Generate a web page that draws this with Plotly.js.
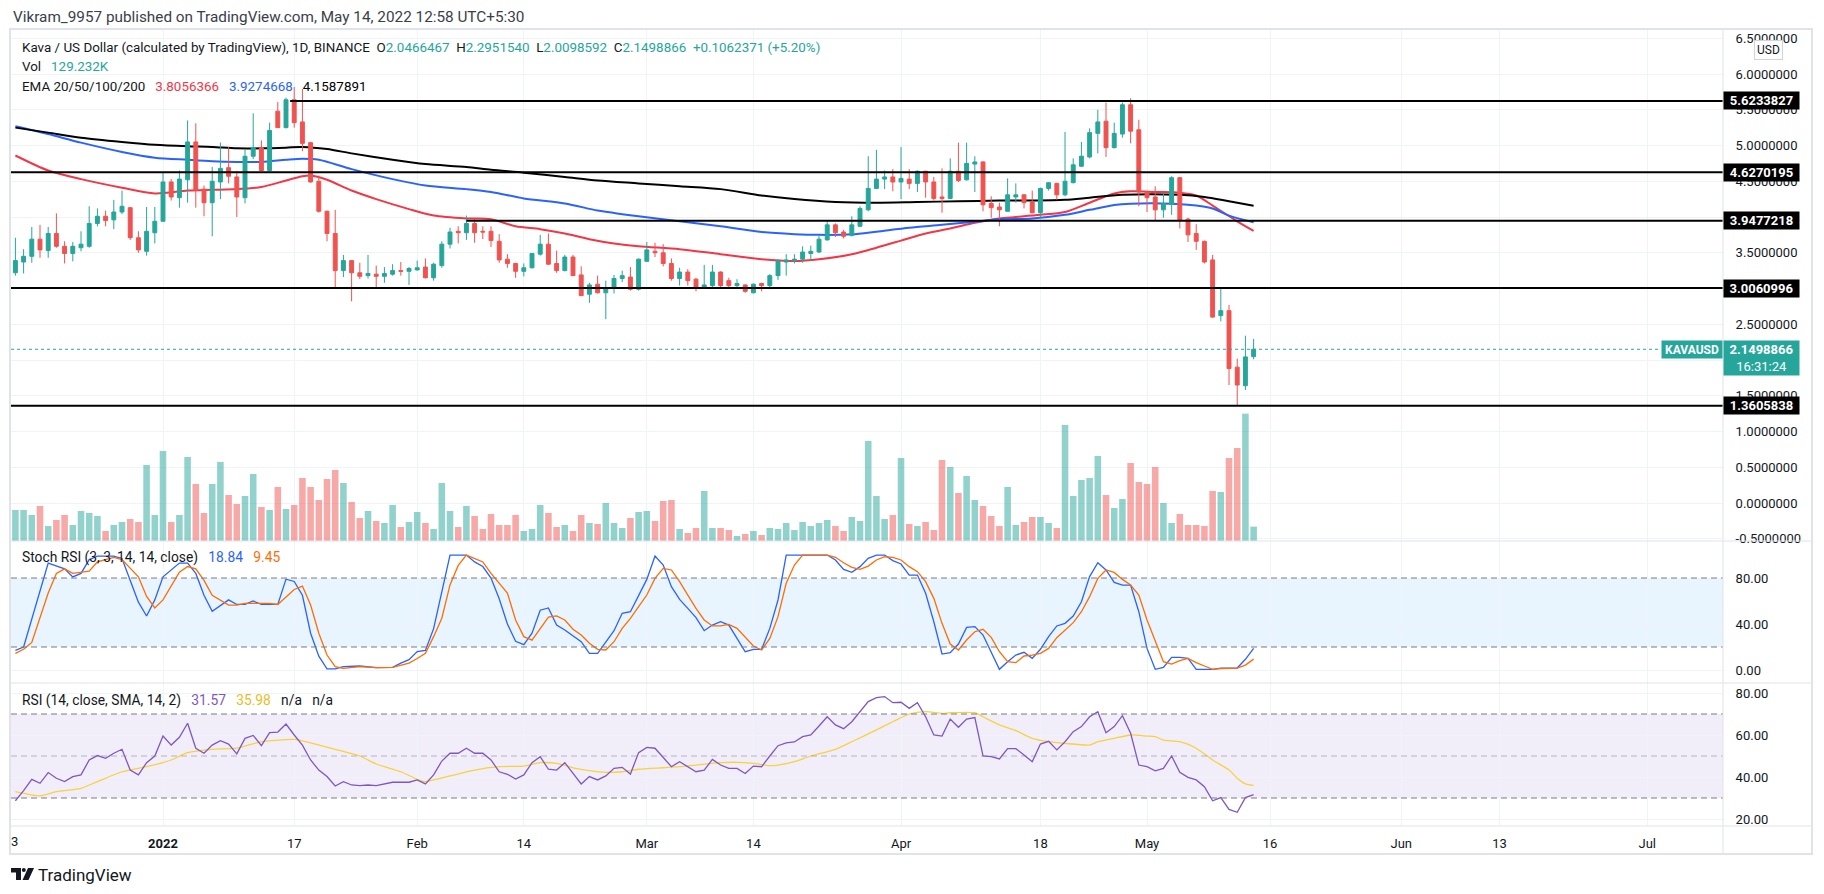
<!DOCTYPE html>
<html><head><meta charset="utf-8">
<script src="https://cdn.plot.ly/plotly-3.0.1.min.js"></script>
<style>html,body{margin:0;padding:0;background:#fff;}#chart{width:1824px;height:894px;}</style>
</head><body><div id="chart"></div>
<script>
// ---------------- DATA ----------------
const dates = [
'2021-12-14','2021-12-15','2021-12-16','2021-12-17','2021-12-18','2021-12-19','2021-12-20','2021-12-21','2021-12-22','2021-12-23',
'2021-12-24','2021-12-25','2021-12-26','2021-12-27','2021-12-28','2021-12-29','2021-12-30','2021-12-31',
'2022-01-01','2022-01-02','2022-01-03','2022-01-04','2022-01-05','2022-01-06','2022-01-07','2022-01-08','2022-01-09','2022-01-10',
'2022-01-11','2022-01-12','2022-01-13','2022-01-14','2022-01-15','2022-01-16','2022-01-17','2022-01-18','2022-01-19','2022-01-20',
'2022-01-21','2022-01-22','2022-01-23','2022-01-24','2022-01-25','2022-01-26','2022-01-27','2022-01-28','2022-01-29','2022-01-30','2022-01-31',
'2022-02-01','2022-02-02','2022-02-03','2022-02-04','2022-02-05','2022-02-06','2022-02-07','2022-02-08','2022-02-09','2022-02-10',
'2022-02-11','2022-02-12','2022-02-13','2022-02-14','2022-02-15','2022-02-16','2022-02-17','2022-02-18','2022-02-19','2022-02-20',
'2022-02-21','2022-02-22','2022-02-23','2022-02-24','2022-02-25','2022-02-26','2022-02-27','2022-02-28',
'2022-03-01','2022-03-02','2022-03-03','2022-03-04','2022-03-05','2022-03-06','2022-03-07','2022-03-08','2022-03-09','2022-03-10',
'2022-03-11','2022-03-12','2022-03-13','2022-03-14','2022-03-15','2022-03-16','2022-03-17','2022-03-18','2022-03-19','2022-03-20',
'2022-03-21','2022-03-22','2022-03-23','2022-03-24','2022-03-25','2022-03-26','2022-03-27','2022-03-28','2022-03-29','2022-03-30','2022-03-31',
'2022-04-01','2022-04-02','2022-04-03','2022-04-04','2022-04-05','2022-04-06','2022-04-07','2022-04-08','2022-04-09','2022-04-10',
'2022-04-11','2022-04-12','2022-04-13','2022-04-14','2022-04-15','2022-04-16','2022-04-17','2022-04-18','2022-04-19','2022-04-20',
'2022-04-21','2022-04-22','2022-04-23','2022-04-24','2022-04-25','2022-04-26','2022-04-27','2022-04-28','2022-04-29','2022-04-30',
'2022-05-01','2022-05-02','2022-05-03','2022-05-04','2022-05-05','2022-05-06','2022-05-07','2022-05-08','2022-05-09','2022-05-10',
'2022-05-11','2022-05-12','2022-05-13','2022-05-14'];

const open = [
3.22,3.37,3.45,3.69,3.53,3.77,3.59,3.49,3.57,3.59,
3.91,4.01,3.96,4.07,4.13,3.71,3.52,3.78,3.94,4.49,
4.27,4.52,5.05,4.39,4.20,4.49,4.69,4.56,4.27,4.85,
4.97,4.65,5.48,5.25,5.64,5.33,5.04,4.50,4.08,3.77,
3.25,3.39,3.22,3.18,3.20,3.17,3.20,3.25,3.24,3.26,
3.30,3.15,3.32,3.62,3.80,3.78,3.91,3.80,3.80,3.66,
3.41,3.35,3.24,3.29,3.48,3.62,3.35,3.25,3.44,3.19,
2.92,3.06,2.94,3.01,3.14,3.16,2.99,3.38,3.52,3.50,
3.35,3.14,3.23,3.13,3.00,3.04,3.23,3.11,3.04,3.05,
2.94,3.07,3.04,3.18,3.37,3.39,3.41,3.49,3.51,3.68,
3.89,3.79,3.74,3.87,4.10,4.40,4.53,4.56,4.49,4.53,
4.47,4.64,4.49,4.28,4.26,4.64,4.52,4.74,4.77,4.19,
4.14,4.08,4.28,4.31,4.21,4.06,4.40,4.47,4.31,4.48,
4.71,4.84,5.17,5.34,4.97,5.16,5.57,5.22,4.35,4.28,
4.10,4.18,4.55,3.97,3.77,3.66,3.40,2.62,2.69,1.90,
1.64,2.0466467];
const high = [
3.71,3.55,3.86,3.89,3.86,4.05,3.66,3.65,3.80,4.15,
4.12,4.09,4.24,4.37,4.14,3.80,4.14,4.14,4.63,4.53,
4.65,5.35,5.31,4.44,4.70,5.04,4.98,4.64,4.95,5.45,
5.07,5.32,5.61,5.67,5.82,5.79,5.05,4.58,4.09,4.10,
3.47,3.39,3.36,3.47,3.32,3.30,3.34,3.37,3.30,3.39,
3.42,3.36,3.66,3.85,3.87,4.02,3.98,3.87,3.87,3.76,
3.48,3.36,3.35,3.49,3.75,3.77,3.53,3.47,3.47,3.31,
3.08,3.18,3.11,3.19,3.25,3.30,3.42,3.65,3.64,3.62,
3.42,3.29,3.27,3.15,3.33,3.33,3.24,3.15,3.13,3.06,
3.07,3.08,3.20,3.41,3.48,3.48,3.59,3.60,3.74,3.94,
3.91,3.82,4.01,4.15,4.85,4.94,4.65,4.67,4.98,4.67,
4.65,4.64,4.56,4.68,4.82,5.04,5.04,4.85,4.78,4.29,
4.20,4.54,4.47,4.32,4.37,4.41,4.49,4.48,5.19,4.82,
5.05,5.24,5.50,5.60,5.32,5.60,5.66,5.36,4.37,4.43,
4.33,4.57,4.56,3.99,3.90,3.67,3.47,3.02,2.77,2.02,
2.34,2.2951540];
const low = [
3.18,3.21,3.36,3.43,3.43,3.57,3.35,3.38,3.52,3.57,
3.87,3.87,3.83,4.04,3.68,3.50,3.46,3.63,3.94,4.23,
4.13,4.20,4.13,4.01,3.73,4.25,4.47,4.00,4.19,4.81,
4.64,4.64,5.25,5.24,5.25,4.92,4.48,4.06,3.66,3.00,
3.16,2.82,3.13,3.14,3.01,3.08,3.18,3.18,3.05,3.25,
3.14,3.11,3.29,3.56,3.63,3.68,3.64,3.69,3.58,3.36,
3.29,3.15,3.17,3.28,3.46,3.33,3.22,3.24,3.18,2.90,
2.80,2.93,2.57,2.93,3.09,2.97,2.97,3.38,3.44,3.31,
3.11,3.04,3.04,2.96,3.00,3.01,3.01,3.01,3.02,2.94,
2.93,2.96,2.99,3.12,3.18,3.35,3.36,3.39,3.50,3.67,
3.72,3.70,3.73,3.86,4.08,4.39,4.39,4.36,4.25,4.39,
4.35,4.27,4.23,4.06,4.25,4.49,4.51,4.35,4.08,3.99,
3.87,4.08,4.20,4.12,4.05,3.99,4.37,4.24,4.29,4.47,
4.70,4.82,4.89,4.84,4.96,5.11,5.03,4.15,4.07,3.95,
3.99,4.03,3.84,3.65,3.54,3.35,2.59,2.54,1.65,1.36,
1.58,2.0098592];
const close = [
3.39,3.45,3.69,3.54,3.77,3.59,3.49,3.59,3.62,3.91,
4.01,3.95,4.07,4.15,3.71,3.54,3.80,3.94,4.49,4.28,
4.53,5.05,4.38,4.20,4.50,4.68,4.57,4.28,4.85,4.97,
4.65,5.21,5.25,5.64,5.32,5.03,4.49,4.08,3.77,3.25,
3.39,3.22,3.17,3.21,3.17,3.21,3.25,3.24,3.28,3.29,
3.15,3.34,3.62,3.79,3.78,3.91,3.78,3.79,3.67,3.40,
3.35,3.24,3.29,3.49,3.62,3.34,3.25,3.44,3.18,2.90,
3.05,2.94,3.01,3.14,3.18,2.99,3.41,3.54,3.50,3.35,
3.14,3.23,3.11,3.01,3.05,3.23,3.04,3.04,3.07,2.96,
3.06,3.04,3.18,3.39,3.40,3.41,3.51,3.52,3.69,3.89,
3.78,3.73,3.89,4.12,4.40,4.53,4.56,4.49,4.54,4.47,
4.64,4.49,4.26,4.26,4.64,4.51,4.75,4.77,4.17,4.13,
4.10,4.31,4.31,4.20,4.06,4.40,4.48,4.31,4.50,4.73,
4.85,5.18,5.33,4.97,5.17,5.57,5.20,4.35,4.27,4.10,
4.19,4.55,3.95,3.75,3.66,3.37,2.60,2.69,1.88,1.65,
2.0436495,2.1498866];
// volume in thousands
const volumeK = [
279,279,234,315,135,189,234,144,270,252,
225,90,144,171,198,171,684,234,810,171,
234,756,513,252,513,711,414,333,405,603,
306,279,486,288,324,567,486,369,558,639,
522,351,207,270,180,162,324,126,171,261,
162,108,522,270,126,315,225,108,243,144,
144,234,90,108,324,252,126,144,90,234,
162,153,342,162,117,207,261,270,180,360,
369,108,72,117,450,117,117,99,45,63,
90,54,117,108,162,99,171,135,162,189,
135,90,216,180,900,405,198,234,747,153,
135,171,99,729,666,432,585,369,315,225,
135,486,144,171,216,216,162,117,1044,405,
549,567,765,414,297,378,702,531,513,666,
342,162,243,144,144,135,450,441,747,837,
1146,129.232];

// EMA lines (bar index, value)
const emaRedIdx = [0,4,8,13,17,21,24,27,30,33,35,36,38,41,44,48,51,55,58,61,64,67,70,73,76,81,86,91,95,98,102,105,108,111,114,117,120,122,125,128,131,134,136,139,142,144,146,149,151];
const emaRed = [4.86,4.65,4.53,4.41,4.33,4.37,4.38,4.39,4.42,4.51,4.57,4.58,4.52,4.37,4.25,4.11,4.02,3.98,3.97,3.87,3.83,3.77,3.69,3.63,3.59,3.55,3.48,3.41,3.385,3.41,3.48,3.57,3.67,3.77,3.84,3.92,3.98,4.00,4.03,4.07,4.20,4.33,4.36,4.35,4.34,4.30,4.16,3.94,3.8056366];
const emaBlueIdx = [0,4,8,13,17,21,24,27,30,33,35,37,41,46,50,55,58,62,67,71,74,76,81,86,91,95,98,102,105,109,113,117,120,124,128,131,134,136,141,144,146,148,151];
const emaBlue = [5.27,5.16,5.04,4.91,4.83,4.80,4.78,4.77,4.77,4.80,4.815,4.80,4.67,4.53,4.44,4.39,4.35,4.26,4.19,4.09,4.04,4.01,3.94,3.87,3.79,3.76,3.75,3.757,3.795,3.85,3.89,3.935,3.967,3.98,4.03,4.10,4.168,4.186,4.186,4.16,4.12,4.02,3.9274668];
const emaBlackIdx = [0,4,8,13,17,21,24,27,30,33,35,38,41,46,50,55,58,62,67,71,76,81,86,91,95,100,105,110,115,120,124,128,131,135,142,145,148,151];
const emaBlack = [5.25,5.18,5.11,5.05,5.01,4.99,4.98,4.96,4.96,4.97,4.98,4.95,4.89,4.80,4.74,4.70,4.66,4.62,4.56,4.51,4.47,4.43,4.39,4.30,4.25,4.21,4.20,4.21,4.22,4.23,4.23,4.24,4.27,4.31,4.31,4.28,4.22,4.1587891];

// Stoch RSI
const stochKIdx = [0,1,4,6,7,8,9,10,12,13,15,16,17,18,20,21,22,23,24,26,27,28,29,30,32,33,34,35,36,37,38,39,40,42,44,46,47,48,49,50,51,52,53,55,56,57,58,59,60,61,62,63,64,65,
66,67,68,69,70,71,73,74,75,76,77,78,79,80,81,82,83,84,85,86,87,88,89,90,91,92,93,94,99,100,101,102,103,104,105,106,107,108,109,110,111,112,113,114,115,116,117,118,119,
120,121,122,123,124,125,126,127,128,129,130,131,132,133,134,135,136,137,138,139,140,141,142,143,144,145,146,147,148,149,150,151];
const stochK = [17,20,93,88,81,84,96,99,99,97,59,47,61,81,93,93,84,65,51,61,57,57,60,57,57,79,77,65,32,12,1,1,3,3.5,2,2.3,6,9,16,17,36,67,100,100,94,90,80,62,40,25,22,32,52,54,
39.1,34.8,29.6,24.6,14.5,14.5,34.2,49.3,50.7,65.2,78.8,99.1,91.3,72.5,61.4,53.6,45.5,34.2,39.1,42,39.1,27.5,15.9,18,18,36.2,60.9,100,100,95.7,87.5,84.9,89.9,97.1,100,100,95.1,92.2,82.6,82.6,66.7,42,13.9,15.1,22.6,37.1,37.7,30.4,15.9,
0.6,7.2,13,15.4,10.1,18,29,38.3,40.6,47,59.4,81.2,93.3,87,76.2,73.9,73.9,50.7,18.8,0.6,2.3,11,11,10.1,0.6,0.6,0.6,1.7,1.7,1.7,9.3,18.84];
const stochDIdx = [0,1,2,4,5,6,7,9,10,12,13,15,16,17,18,20,21,22,23,24,26,27,28,31,32,34,35,36,37,38,39,40,42,44,46,48,49,50,51,52,53,54,55,56,57,58,60,61,62,63,64,65,
66,67,68,69,70,71,72,73,74,75,76,77,78,79,80,81,82,83,84,85,86,87,88,89,90,91,92,93,94,95,96,99,100,101,102,103,104,105,106,107,108,109,110,111,112,113,114,115,116,117,118,119,
120,121,122,123,124,125,126,127,128,129,130,131,132,133,134,135,136,137,138,139,140,141,142,143,144,145,146,147,148,149,150,151];
const stochD = [14.5,18,24,67,84,88,84,86,94,98,96,81,64,54,61,85,90,88,78,65,56.5,56.5,58,58,57,70,73,56.5,32,13,3,1.4,3,2,2.3,6,10,14.5,29,45,74,91,100,97,94,84,67,43.5,29,26,36,46,
47,43.5,35.4,30.4,23.2,18,17.4,24.6,36.2,44.9,55.1,65.2,79.7,88.4,87,76.8,65.2,53.6,43.5,38.3,38.3,39.7,36.2,29,20.9,17.4,27.5,46.4,75.4,91.3,100,100,98,93.3,89.3,87.5,90.4,95.7,98.6,98,95.7,89.9,85.5,76.8,62.3,40.6,22.6,17.4,26.1,33.3,35.4,28.4,
15.9,7.2,6.4,12.2,13,14.5,18.8,28.1,34.8,41.2,50.7,63.8,79.7,87,84.9,78.8,73.9,65.2,43.5,24.6,7.2,5.2,8.1,10.1,6.4,3.5,0.6,1.2,1.2,1.7,4.3,9.45];

// RSI (one value per bar) and its SMA
const rsi = [
28.7,33.5,38.9,37,42.1,39.4,37.8,40.2,41,48.1,
50.2,48.9,51.3,53.2,43.3,41,46.8,50,59.5,55.2,
58.9,65.6,53.7,51.3,55.2,57.3,55.7,51,58.4,59.8,
54.9,61.1,61.4,65.2,60,55.2,48.1,43.3,40.2,35.7,
37.8,36.2,35.9,36.2,35.9,36.7,37.5,37.5,37.5,38.6,
36.7,41,47.6,51.3,51.3,53.7,51.3,51.3,48.1,42.5,
41.3,39,41,46.8,49.7,43.7,43.3,46.8,41.7,36.7,
40.2,38.6,40.5,44.1,44.6,41.4,51.6,54.1,53.7,49.4,
44.9,47.3,44.9,42.5,43.3,48.4,45.7,44.1,44.1,41.7,
45.2,44.9,50,54.9,56.3,56.7,59.2,60,64.3,68.7,
64.8,63,66.3,71.1,75.9,77.8,78.3,75.4,75.6,72.7,
75.4,68.7,60,59.5,67.6,63.7,67.6,68.3,50,49.7,
48.6,53.5,53.5,50.5,47.3,55.7,57,52.9,56.8,61.6,
64,68.7,71.1,61.1,64,69.2,60.8,45.7,44.9,42.9,
44.1,50,42.2,39.8,38.6,35.4,28.7,30.2,24.6,23.2,
30.2,31.57];
const rsiMaIdx = [0,3,5,8,10,13,16,19,21,24,27,30,34,36,39,42,44,47,49,50,53,56,59,62,64,66,68,70,72,74,76,79,81,83,86,88,90,92,93,95,97,100,102,105,107,109,111,113,114,117,118,120,122,124,126,128,131,132,134,136,138,139,140,142,144,146,148,149,150,151];
const rsiMa = [33,31,33,34.6,37.8,42.5,44.9,48.1,51.6,53.2,53.7,56.8,57.9,56.3,53.2,50,46.2,42.5,38.9,37.8,40.5,43.3,44.9,45.2,46.8,46.5,44.4,43,42.2,42.5,43.7,44.4,44.9,45.7,46.8,47,46.5,45.4,45.7,47.3,50,53.2,56.8,62.4,66.3,70,71.1,70.3,70.6,70.6,68.7,64.8,62.1,58.4,56.8,56,55.2,56.8,58.4,60,59.5,59.2,57.6,56.8,53.7,48.1,43.3,39.4,36.7,35.98];

// Horizontal levels drawn on the chart
const levels = [5.6233827, 4.6270195, 3.9477218, 3.0060996, 1.3605838];
const levelStart = ['2022-01-16 12:00', null, '2022-02-07', null, null];

// Axis ticks
const xTickVals = ['2022-01-01','2022-01-17','2022-02-01','2022-02-14','2022-03-01','2022-03-14','2022-04-01','2022-04-18','2022-05-01','2022-05-16','2022-06-01','2022-06-13','2022-07-01'];
const xTickText = ['<b>2022</b>','17','Feb','14','Mar','14','Apr','18','May','16','Jun','13','Jul'];
const priceTicks = [-0.5,0,0.5,1,1.5,2,2.5,3,3.5,4,4.5,5,5.5,6,6.5];
// price tick labels fully covered by the level / last-price boxes in the picture
const priceTicksCovered = [2, 3, 4];

// ---------------- LAYOUT HELPERS ----------------
const W = 1824, H = 894;
const px = x => x / W;
const py = y => 1 - y / H;
const TEAL = '#26a69a', RED = '#ef5350', TXT = '#131722', GRID = '#f0f3fa', FRAME = '#e0e3eb';
const FONT = 'Roboto, "Open Sans", sans-serif';
const xStart = '2021-12-13 11:07', xEnd = '2022-07-10 05:46';
const last = close.length - 1;
const pick = (idx) => idx.map(i => dates[i]);
const NB = '\u00a0\u00a0\u00a0';
const NB2 = '\u00a0\u00a0';
const span = (c, t) => `<span style="color:${c}">${t}</span>`;

// ---------------- TRACES ----------------
const traces = [];
traces.push({
  type: 'bar', x: dates, y: volumeK, xaxis: 'x', yaxis: 'y',
  marker: { color: close.map((c, i) => c >= open[i] ? 'rgba(38,166,154,0.5)' : 'rgba(239,83,80,0.5)'), line: { width: 0 } },
  width: 0.8 * 86400000, hoverinfo: 'skip'
});
[[emaRedIdx, emaRed, '#f23645'], [emaBlueIdx, emaBlue, '#2962ff'], [emaBlackIdx, emaBlack, '#000000']].forEach(([ix, v, c]) => {
  traces.push({ type: 'scatter', mode: 'lines', x: pick(ix), y: v, xaxis: 'x', yaxis: 'y2',
    line: { color: c, width: 2, shape: 'spline', smoothing: 0.8 }, hoverinfo: 'skip' });
});
traces.push({
  type: 'candlestick', x: dates, open: open, high: high, low: low, close: close, xaxis: 'x', yaxis: 'y5',
  increasing: { line: { color: TEAL, width: 1 }, fillcolor: TEAL },
  decreasing: { line: { color: RED, width: 1 }, fillcolor: RED },
  whiskerwidth: 0, hoverinfo: 'skip'
});
traces.push({ type: 'scatter', mode: 'lines', x: pick(stochKIdx), y: stochK, xaxis: 'x2', yaxis: 'y3', line: { color: '#2962ff', width: 1.3 }, hoverinfo: 'skip' });
traces.push({ type: 'scatter', mode: 'lines', x: pick(stochDIdx), y: stochD, xaxis: 'x2', yaxis: 'y3', line: { color: '#ff6d00', width: 1.3 }, hoverinfo: 'skip' });
traces.push({ type: 'scatter', mode: 'lines', x: pick(rsiMaIdx), y: rsiMa, xaxis: 'x3', yaxis: 'y4', line: { color: '#f7d13e', width: 1.3, shape: 'spline', smoothing: 0.6 }, hoverinfo: 'skip' });
traces.push({ type: 'scatter', mode: 'lines', x: dates, y: rsi, xaxis: 'x3', yaxis: 'y4', line: { color: '#7e57c2', width: 1.3 }, hoverinfo: 'skip' });

// ---------------- AXES ----------------
const xBase = {
  type: 'date', domain: [px(11), px(1723)], range: [xStart, xEnd],
  tickvals: xTickVals, ticktext: xTickText, showgrid: true, gridcolor: GRID, gridwidth: 1,
  zeroline: false, showline: false, fixedrange: true, showticklabels: false
};
const yRight = {
  side: 'right', showgrid: true, gridcolor: GRID, zeroline: false, showline: false, fixedrange: true,
  ticks: 'outside', ticklen: 9, tickcolor: 'rgba(0,0,0,0)', tickfont: { size: 13, color: TXT, family: FONT }
};
const priceRange = [-0.5315, 6.6154];
const priceText = priceTicks.map(v => priceTicksCovered.includes(v) ? '' : v.toFixed(7));

// ---------------- SHAPES ----------------
const shapes = [];
shapes.push({ type: 'rect', xref: 'paper', yref: 'y3', x0: px(11), x1: px(1723), y0: 20, y1: 80, fillcolor: 'rgba(33,150,243,0.1)', line: { width: 0 }, layer: 'below' });
[80, 20].forEach(v => shapes.push({ type: 'line', xref: 'paper', yref: 'y3', x0: px(11), x1: px(1723), y0: v, y1: v, line: { color: '#787b86', width: 1, dash: '6px,4px' } }));
shapes.push({ type: 'rect', xref: 'paper', yref: 'y4', x0: px(11), x1: px(1723), y0: 30, y1: 70, fillcolor: 'rgba(126,87,194,0.1)', line: { width: 0 }, layer: 'below' });
[70, 30].forEach(v => shapes.push({ type: 'line', xref: 'paper', yref: 'y4', x0: px(11), x1: px(1723), y0: v, y1: v, line: { color: '#787b86', width: 1, dash: '6px,4px' } }));
shapes.push({ type: 'line', xref: 'paper', yref: 'y4', x0: px(11), x1: px(1723), y0: 50, y1: 50, line: { color: 'rgba(120,123,134,0.5)', width: 1, dash: '6px,4px' } });
shapes.push({ type: 'line', xref: 'paper', yref: 'y2', x0: px(11), x1: px(1661), y0: close[last], y1: close[last], line: { color: TEAL, width: 1, dash: 'dot' } });
levels.forEach((v, i) => shapes.push({ type: 'line', xref: 'x', yref: 'y2', x0: levelStart[i] || xStart, x1: xEnd, y0: v, y1: v, line: { color: '#000', width: 2 } }));
shapes.push({ type: 'rect', xref: 'paper', yref: 'paper', x0: px(10), x1: px(1812), y0: py(854), y1: py(29), line: { color: FRAME, width: 2 } });
[541, 683, 826].forEach(y => shapes.push({ type: 'line', xref: 'paper', yref: 'paper', x0: px(10), x1: px(1812), y0: py(y), y1: py(y), line: { color: FRAME, width: 1 } }));
shapes.push({ type: 'line', xref: 'paper', yref: 'paper', x0: px(1723), x1: px(1723), y0: py(29), y1: py(854), line: { color: FRAME, width: 1 } });
const P = (pts) => 'M' + pts.map(([x, y]) => px(x) + ',' + py(y)).join(' L') + ' Z';
shapes.push({ type: 'path', xref: 'paper', yref: 'paper', path: P([[11, 868], [21, 868], [21, 880], [16, 880], [16, 872.5], [11, 872.5]]), fillcolor: TXT, line: { width: 0 } });
shapes.push({ type: 'circle', xref: 'paper', yref: 'paper', x0: px(21.8), x1: px(25.8), y0: py(872), y1: py(868), fillcolor: TXT, line: { width: 0 } });
shapes.push({ type: 'path', xref: 'paper', yref: 'paper', path: P([[28, 868], [34, 868], [28.5, 880], [22.5, 880]]), fillcolor: TXT, line: { width: 0 } });

// ---------------- ANNOTATIONS ----------------
const ann = [];
const txt = (x, y, text, size, extra) => ann.push(Object.assign({ xref: 'paper', yref: 'paper', x: px(x), y: py(y), xanchor: 'left', yanchor: 'middle', showarrow: false, text: text, font: { size: size, color: TXT, family: FONT } }, extra || {}));
txt(11, 17, 'Vikram_9957 published on TradingView.com, May 14, 2022 12:58 UTC+5:30', 15.3, { font: { size: 15.3, color: '#3a3e4a', family: FONT } });
const chg = close[last] - close[last - 1];
txt(20, 47, 'Kava / US Dollar (calculated by TradingView), 1D, BINANCE' + NB2 +
  'O' + span(TEAL, open[last].toFixed(7)) + NB2 + 'H' + span(TEAL, high[last].toFixed(7)) + NB2 +
  'L' + span(TEAL, low[last].toFixed(7)) + NB2 + 'C' + span(TEAL, close[last].toFixed(7)) + NB2 +
  span(TEAL, '+' + chg.toFixed(7) + ' (+' + (100 * chg / close[last - 1]).toFixed(2) + '%)'), 13.4);
txt(20, 66, 'Vol' + NB + span(TEAL, volumeK[last].toFixed(3) + 'K'), 13.4);
txt(20, 86, 'EMA 20/50/100/200' + NB + span('#f23645', emaRed[emaRed.length - 1].toFixed(7)) + NB +
  span('#2962ff', emaBlue[emaBlue.length - 1].toFixed(7)) + NB + span('#000', emaBlack[emaBlack.length - 1].toFixed(7)), 13.4);
txt(20, 557, 'Stoch RSI (3, 3, 14, 14, close)' + NB + span('#2962ff', stochK[stochK.length - 1].toFixed(2)) + NB + span('#ff6d00', stochD[stochD.length - 1].toFixed(2)), 13.8);
txt(20, 700, 'RSI (14, close, SMA, 14, 2)' + NB + span('#7e57c2', rsi[last].toFixed(2)) + NB + span('#e6be1e', rsiMa[rsiMa.length - 1].toFixed(2)) + NB + 'n/a' + NB + 'n/a', 13.8);
levels.forEach(v => ann.push({ xref: 'paper', yref: 'y2', x: px(1723), y: v, xanchor: 'left', yanchor: 'middle', showarrow: false,
  text: '<b>' + v.toFixed(7) + '</b>', font: { size: 13, color: '#fff', family: FONT }, bgcolor: '#000', width: 73, height: 15, borderpad: 1 }));
ann.push({ xref: 'paper', yref: 'paper', x: px(1661), y: py(349), xanchor: 'left', yanchor: 'middle', showarrow: false,
  text: '<b>KAVAUSD</b>', font: { size: 12, color: '#fff', family: FONT }, bgcolor: TEAL, width: 58, height: 15, borderpad: 1 });
ann.push({ xref: 'paper', yref: 'paper', x: px(1723), y: py(340), xanchor: 'left', yanchor: 'top', showarrow: false,
  text: '<b>' + close[last].toFixed(7) + '</b><br>16:31:24', font: { size: 13, color: '#fff', family: FONT }, bgcolor: TEAL, width: 73, borderpad: 1, align: 'center' });
ann.push({ xref: 'paper', yref: 'paper', x: px(1768), y: py(50), xanchor: 'center', yanchor: 'middle', showarrow: false,
  text: 'USD', font: { size: 12, color: TXT, family: FONT }, bgcolor: '#fff', bordercolor: '#d1d4dc', borderwidth: 1, borderpad: 2 });
txt(9, 841, '3', 13, { xanchor: 'left' });
txt(36, 875, 'TradingView', 17);

const layout = {
  width: W, height: H, margin: { l: 0, r: 0, t: 0, b: 0 }, paper_bgcolor: '#fff', plot_bgcolor: 'rgba(0,0,0,0)',
  showlegend: false, hovermode: false, font: { family: FONT, color: TXT, size: 13 }, boxgap: 0.32,
  xaxis: Object.assign({}, xBase, { anchor: 'y', rangeslider: { visible: false } }),
  xaxis2: Object.assign({}, xBase, { anchor: 'y3' }),
  xaxis3: Object.assign({}, xBase, { anchor: 'y4', showticklabels: true, ticks: 'outside', ticklen: 5, tickcolor: 'rgba(0,0,0,0)', tickfont: { size: 13, color: TXT, family: FONT } }),
  yaxis: { domain: [py(541), py(30)], range: [0, 4599], visible: false, fixedrange: true },
  yaxis2: Object.assign({}, yRight, { overlaying: 'y', anchor: 'x', range: priceRange, tickvals: priceTicks, ticktext: priceText }),
  yaxis5: { overlaying: 'y', anchor: 'x', range: priceRange, visible: false, fixedrange: true },
  yaxis3: Object.assign({}, yRight, { domain: [py(683), py(541)], anchor: 'x2', range: [-11.3, 112.2], tickvals: [0, 40, 80], tickformat: '.2f' }),
  yaxis4: Object.assign({}, yRight, { domain: [py(826), py(683)], anchor: 'x3', range: [16.67, 84.76], tickvals: [20, 40, 60, 80], tickformat: '.2f' }),
  shapes: shapes, annotations: ann
};
Plotly.newPlot('chart', traces, layout, { displayModeBar: false, staticPlot: true });
</script></body></html>
